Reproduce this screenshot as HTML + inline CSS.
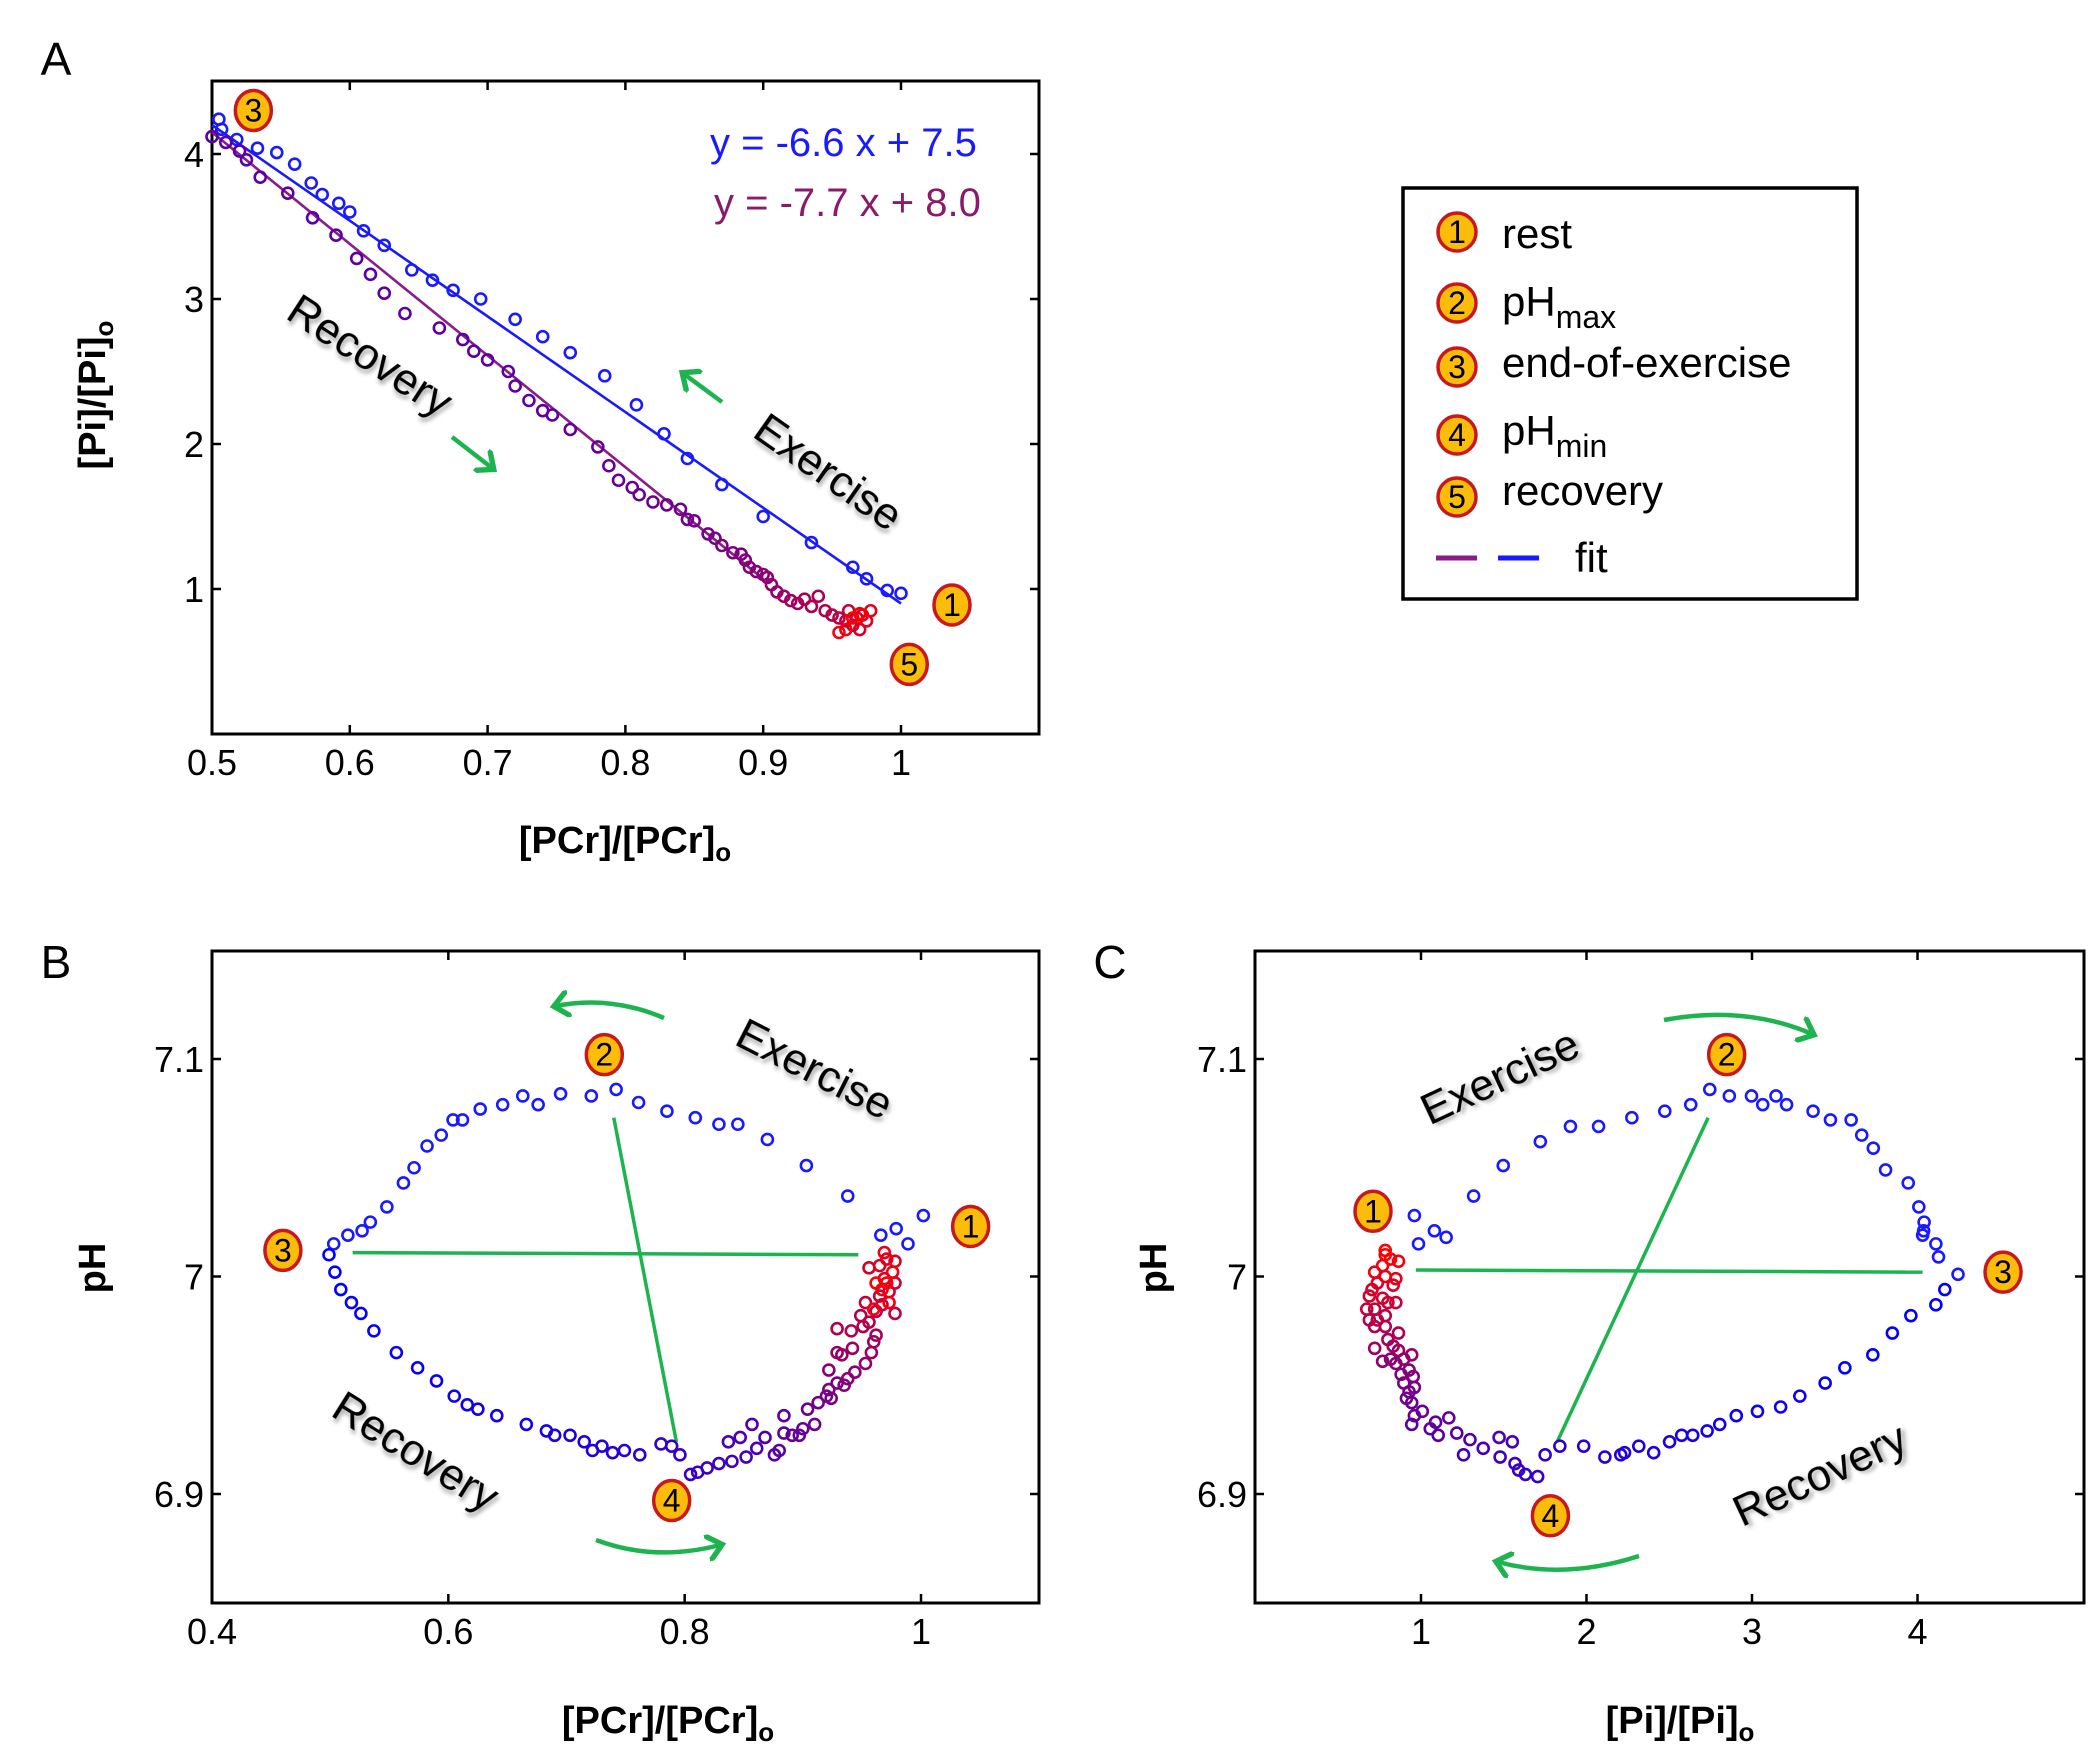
<!DOCTYPE html>
<html><head><meta charset="utf-8"><style>
body{margin:0;background:#fff;}
svg{display:block;}
text{font-family:"Liberation Sans Narrow","Liberation Sans",sans-serif;}
.tick{font-size:36px;fill:#000;}
.axl{font-size:38px;font-weight:bold;fill:#000;}
.ann{font-family:"Liberation Sans","DejaVu Sans",sans-serif;font-size:44px;fill:#000;}
.leg{font-family:"Liberation Sans","DejaVu Sans",sans-serif;font-size:42px;fill:#000;}
.mk{font-family:"Liberation Sans Narrow","Liberation Sans",sans-serif;font-size:32px;fill:#000;}
</style></head><body>
<svg id="fig" width="2100" height="1761" viewBox="0 0 2100 1761" xmlns="http://www.w3.org/2000/svg">
<defs>
<filter id="sh" x="-10%" y="-10%" width="130%" height="130%"><feDropShadow dx="3" dy="3" stdDeviation="2" flood-color="#000" flood-opacity="0.35"/></filter>
<marker id="ah" markerWidth="6" markerHeight="6" refX="3" refY="3" orient="auto" markerUnits="strokeWidth"><path d="M0,0 L3.5,3 L0,6" fill="none" stroke="#1db34f" stroke-width="1.2"/></marker>
</defs>
</svg>
<script>
// ---------- Panel A data ----------
const aTicksX=[0.5,0.6,0.7,0.8,0.9,1];
const aTickLabelsX=["0.5","0.6","0.7","0.8","0.9","1"];
const aTicksY=[1,2,3,4];
const aTickLabelsY=["1","2","3","4"];
const aExerciseX=[1.0,0.99,0.975,0.965,0.935,0.9,0.87,0.845,0.828,0.808,0.785,0.76,0.74,0.72,0.695,0.675,0.66,0.645,0.625,0.61,0.6,0.592,0.58,0.572,0.56,0.547,0.533,0.518,0.507,0.505];
const aExerciseY=[0.97,0.99,1.07,1.15,1.32,1.5,1.72,1.9,2.07,2.27,2.47,2.63,2.74,2.86,3.0,3.06,3.13,3.2,3.37,3.47,3.6,3.66,3.72,3.8,3.93,4.01,4.04,4.1,4.17,4.24];
const aRecoveryX=[0.5,0.51,0.52,0.525,0.535,0.555,0.573,0.59,0.605,0.615,0.625,0.64,0.665,0.682,0.69,0.7,0.715,0.72,0.73,0.74,0.747,0.76,0.78,0.788,0.795,0.805,0.81,0.82,0.83,0.84,0.845,0.85,0.86,0.865,0.87,0.878,0.884,0.887,0.89,0.895,0.9,0.903,0.906,0.91,0.915,0.92,0.925,0.93,0.935,0.94,0.945,0.95,0.955,0.96,0.962,0.965,0.968,0.97,0.972,0.975,0.978,0.96,0.955,0.97,0.965];
const aRecoveryY=[4.12,4.08,4.02,3.96,3.84,3.73,3.56,3.44,3.28,3.17,3.04,2.9,2.8,2.72,2.64,2.58,2.5,2.4,2.3,2.23,2.2,2.1,1.98,1.85,1.75,1.7,1.65,1.6,1.58,1.55,1.48,1.47,1.38,1.35,1.3,1.25,1.24,1.2,1.15,1.12,1.1,1.08,1.03,0.98,0.95,0.92,0.9,0.93,0.88,0.95,0.85,0.82,0.8,0.78,0.85,0.75,0.8,0.72,0.82,0.78,0.85,0.72,0.7,0.83,0.8];
const aFitExercise=[-6.6,7.5,0.5,1.0];   // slope, intercept, xStart, xEnd
const aFitRecovery=[-7.7,8.0,0.5,0.9];
const aMarkerLabels=["3","1","5"];
const aMarkerX=[0.530,1.037,1.006];
const aMarkerY=[4.30,0.89,0.48];

// ---------- Panel B data ----------
const bTicksX=[0.4,0.6,0.8,1];
const bTickLabelsX=["0.4","0.6","0.8","1"];
const bTicksY=[6.9,7.0,7.1];
const bTickLabelsY=["6.9","7","7.1"];
const bExerciseX=[1.002,.989,.979,.966,.938,.903,.870,.845,.829,.809,.785,.761,.742,.721,.695,.676,.663,.646,.627,.612,.604,.594,.582,.571,.562,.548,.534,.527,.515,.503];
const bExerciseY=[7.028,7.015,7.022,7.019,7.037,7.051,7.063,7.070,7.070,7.073,7.076,7.080,7.086,7.083,7.084,7.079,7.083,7.079,7.077,7.072,7.072,7.065,7.060,7.050,7.043,7.032,7.025,7.021,7.019,7.015];
const bRecoveryX=[.499,.504,.509,.518,.526,.537,.556,.574,.590,.605,.616,.625,.641,.666,.683,.690,.703,.715,.722,.730,.739,.749,.762,.780,.789,.796,.805,.811,.819,.829,.840,.852,.861,.868,.837,.847,.857,.876,.880,.884,.884,.891,.897,.900,.904,.910,.913,.920,.924,.922,.929,.935,.922,.938,.944,.953,.929,.933,.942,.958,.960,.962,.951,.929,.941,.949,.956,.962,.967,.978,.953,.965,.973,.978,.969,.956,.965,.971,.978,.969,.976,.967,.973,.960,.971,.962];
const bRecoveryY=[7.010,7.002,6.994,6.988,6.983,6.975,6.965,6.958,6.952,6.945,6.941,6.939,6.936,6.932,6.929,6.927,6.927,6.924,6.920,6.922,6.919,6.920,6.918,6.923,6.922,6.918,6.909,6.910,6.912,6.914,6.915,6.917,6.921,6.926,6.924,6.926,6.932,6.918,6.920,6.928,6.936,6.927,6.927,6.930,6.939,6.932,6.942,6.945,6.944,6.948,6.951,6.950,6.957,6.953,6.956,6.960,6.965,6.964,6.967,6.965,6.970,6.973,6.977,6.976,6.975,6.982,6.979,6.984,6.987,6.983,6.988,6.991,6.993,6.997,6.999,7.004,7.005,7.008,7.007,7.011,7.002,6.994,6.988,6.985,6.997,6.997];
const bLine1X=[.519,.947], bLine1Y=[7.011,7.010];
const bLine2X=[.740,.793], bLine2Y=[7.073,6.924];
const bMarkerLabels=["1","2","3","4"];
const bMarkerX=[1.042,.732,.460,.789];
const bMarkerY=[7.023,7.102,7.012,6.897];

// ---------- Panel C data ----------
const cTicksX=[1,2,3,4];
const cTickLabelsX=["1","2","3","4"];
const cTicksY=[6.9,7.0,7.1];
const cTickLabelsY=["6.9","7","7.1"];
const cExerciseX=[.985,.960,1.081,1.152,1.318,1.497,1.721,1.903,2.073,2.274,2.473,2.630,2.745,2.863,2.997,3.065,3.145,3.209,3.369,3.474,3.599,3.663,3.733,3.807,3.944,4.008,4.040,4.037,4.031,4.111,4.127,4.245];
const cExerciseY=[7.015,7.028,7.021,7.018,7.037,7.051,7.062,7.069,7.069,7.073,7.076,7.079,7.086,7.083,7.083,7.079,7.083,7.079,7.076,7.072,7.072,7.065,7.059,7.049,7.043,7.032,7.025,7.021,7.019,7.015,7.009,7.001];
const cRecoveryX=[4.165,4.111,3.960,3.848,3.730,3.561,3.442,3.289,3.173,3.033,2.905,2.805,2.729,2.642,2.575,2.502,2.406,2.316,2.230,2.207,2.111,1.983,1.839,1.750,1.705,1.631,1.590,1.568,1.478,1.257,1.376,1.552,1.472,1.296,1.104,1.216,1.056,.944,1.088,1.168,.960,1.008,.944,.912,.928,.960,.896,.953,.880,.928,.848,.816,.768,.896,.944,.864,.720,.832,.800,.864,.720,.784,.688,.736,.784,.720,.672,.848,.800,.768,.688,.704,.832,.736,.848,.784,.720,.768,.864,.816,.784,.784];
const cRecoveryY=[6.994,6.987,6.982,6.974,6.964,6.958,6.951,6.945,6.940,6.938,6.936,6.932,6.929,6.927,6.927,6.924,6.919,6.922,6.919,6.918,6.917,6.922,6.922,6.918,6.908,6.909,6.911,6.914,6.917,6.918,6.921,6.924,6.926,6.925,6.927,6.928,6.930,6.932,6.933,6.935,6.936,6.938,6.942,6.944,6.947,6.949,6.951,6.954,6.955,6.957,6.960,6.962,6.961,6.962,6.964,6.966,6.967,6.968,6.971,6.974,6.977,6.977,6.980,6.980,6.982,6.985,6.985,6.988,6.988,6.990,6.991,6.994,6.996,6.997,6.999,7.000,7.002,7.005,7.007,7.008,7.010,7.012];
const cLine1X=[.969,4.031], cLine1Y=[7.003,7.002];
const cLine2X=[2.735,1.823], cLine2Y=[7.073,6.924];
const cMarkerLabels=["1","2","3","4"];
const cMarkerX=[.710,2.847,4.517,1.782];
const cMarkerY=[7.030,7.102,7.002,6.890];

const NS="http://www.w3.org/2000/svg";
const svg=document.getElementById('fig');
function mk(tag,attrs,parent,txt){const e=document.createElementNS(NS,tag);for(const k in attrs)e.setAttribute(k,attrs[k]);if(txt!==undefined)e.textContent=txt;(parent||svg).appendChild(e);return e;}
function scale(d0,d1,r0,r1){return v=>r0+(v-d0)/(d1-d0)*(r1-r0);}
function mixColor(t){const r=Math.round(255*t),b=Math.round(255*(1-t));return `rgb(${r},0,${b})`;}

function axes(g,box,sx,sy,tx,txl,ty,tyl,name){
  const [L,T,R,B]=box;
  const frame=mk('rect',{x:L,y:T,width:R-L,height:B-T,fill:'none',stroke:'#000','stroke-width':3},g);
  
  
  tx.forEach((v,i)=>{const x=sx(v);
    const t1=mk('line',{x1:x,y1:B,x2:x,y2:B-9,stroke:'#000','stroke-width':2.5},g);
    
    
    mk('line',{x1:x,y1:T,x2:x,y2:T+9,stroke:'#000','stroke-width':2.5},g);
    const lb=mk('text',{x:x,y:B+41,'text-anchor':'middle',class:'tick'},g,txl[i]);
    
    
  });
  ty.forEach((v,i)=>{const y=sy(v);
    const t1=mk('line',{x1:L,y1:y,x2:L+9,y2:y,stroke:'#000','stroke-width':2.5},g);
    
    
    mk('line',{x1:R,y1:y,x2:R-9,y2:y,stroke:'#000','stroke-width':2.5},g);
    const lb=mk('text',{x:L-8,y:y+13,'text-anchor':'end',class:'tick'},g,tyl[i]);
    
    
  });
}
function points(g,xs,ys,sx,sy,colorFn,name){
  xs.forEach((v,i)=>{
    const c=mk('circle',{cx:sx(v),cy:sy(ys[i]),r:5.5,fill:'none',stroke:colorFn(i,xs.length),'stroke-width':2.6},g);
    
    
  });
}
function markers(g,labels,xs,ys,sx,sy,name){
  labels.forEach((l,i)=>{
    const mg=mk('g',{},g);
    
    
    mk('ellipse',{cx:sx(xs[i]),cy:sy(ys[i]),rx:18,ry:20,fill:'#fbbd0a',stroke:'#c8181b','stroke-width':3.5},mg);
    mk('text',{x:sx(xs[i]),y:sy(ys[i])+11,'text-anchor':'middle',class:'mk'},mg,l);
  });
}
function label(g,txt,x,y,rot,cls,name,anchor){
  const t=mk('text',{x:x,y:y,'text-anchor':anchor||'middle',class:cls,transform:rot?`rotate(${rot} ${x} ${y})`:''},g);
  t.innerHTML=txt;
  
  
  return t;
}
function arrow(g,d,name){
  const p=mk('path',{d:d,fill:'none',stroke:'#1db34f','stroke-width':4.5,'marker-end':'url(#ah)'},g);
  
  
}
const blueFn=()=> '#1a1aff';
const gradFn=(i,n)=>mixColor(Math.pow(i/(n-1),1.3));

// ---------- Panel A ----------
{
  const g=mk('g',{});
  
  
  const box=[212,81,1039,734];
  const sx=scale(0.5,1.0,212,901), sy=scale(0,4,734,154);
  axes(g,box,sx,sy,aTicksX,aTickLabelsX,aTicksY,aTickLabelsY,'panel-a');
  [[aFitRecovery,'#8b1a8b','recovery-fit-line'],[aFitExercise,'#1a1aff','exercise-fit-line']].forEach(([f,c,n])=>{
    const l=mk('line',{x1:sx(f[2]),y1:sy(f[0]*f[2]+f[1]),x2:sx(f[3]),y2:sy(f[0]*f[3]+f[1]),stroke:c,'stroke-width':2.6},g);
    
    
  });
  points(g,aExerciseX,aExerciseY,sx,sy,blueFn,'exercise-point');
  points(g,aRecoveryX,aRecoveryY,sx,sy,(i,n)=>mixColor(0.35+0.65*Math.pow(i/(n-1),2.5)),'recovery-point');
  markers(g,aMarkerLabels,aMarkerX,aMarkerY,sx,sy,'panel-a');
  const e1=label(g,'y = -6.6 x + 7.5',710,156,0,'ann','exercise-fit-equation','start');e1.setAttribute('fill','#1a1aff');e1.style.fill='#1a1aff';e1.style.fontSize='40px';
  const e2=label(g,'y = -7.7 x + 8.0',714,216,0,'ann','recovery-fit-equation','start');e2.style.fill='#8b1a6b';e2.style.fontSize='40px';
  const r=label(g,'Recovery',362,368,33,'ann','recovery-annotation');r.setAttribute('filter','url(#sh)');
  const ex=label(g,'Exercise',820,484,35,'ann','exercise-annotation');ex.setAttribute('filter','url(#sh)');
  arrow(g,'M452,437 L492,468','recovery-arrow');
  arrow(g,'M722,402 L684,374','exercise-arrow');
  label(g,'A',56,75,0,'ann','panel-a-letter').style.fontSize='46px';
  label(g,'[PCr]/[PCr]<tspan font-size="26" dy="8">o</tspan>',625,853,0,'axl','panel-a-x-axis-title');
  label(g,'[Pi]/[Pi]<tspan font-size="26" dy="8">o</tspan>',105,395,-90,'axl','panel-a-y-axis-title');
}
// ---------- Legend ----------
{
  const g=mk('g',{});
  
  
  mk('rect',{x:1403,y:188,width:454,height:411,fill:'#fff',stroke:'#000','stroke-width':3.5},g);
  const rows=[['1','rest',232,248],['2','pH<tspan font-size="32" dy="12">max</tspan>',303,316],['3','end-of-exercise',367,377],['4','pH<tspan font-size="32" dy="12">min</tspan>',435,445],['5','recovery',497,505]];
  rows.forEach(r=>{
    const eg=mk('g',{},g);
    
    
    mk('ellipse',{cx:1457,cy:r[2],rx:19,ry:19,fill:'#fbbd0a',stroke:'#c8181b','stroke-width':3.5},eg);
    mk('text',{x:1457,y:r[2]+11,'text-anchor':'middle',class:'mk'},eg,r[0]);
    const t=mk('text',{x:1502,y:r[3],class:'leg'},eg);t.innerHTML=r[1];
  });
  const fg=mk('g',{},g);
  
  
  mk('line',{x1:1436,y1:558,x2:1477,y2:558,stroke:'#8b1a8b','stroke-width':5},fg);
  mk('line',{x1:1498,y1:558,x2:1539,y2:558,stroke:'#1a1aff','stroke-width':5},fg);
  mk('text',{x:1575,y:572,class:'leg'},fg,'fit');
}
// ---------- Panel B ----------
{
  const g=mk('g',{});
  
  
  const box=[212,951,1039,1603];
  const sx=scale(0.4,1.0,212,921), sy=scale(6.9,7.1,1494,1059);
  axes(g,box,sx,sy,bTicksX,bTickLabelsX,bTicksY,bTickLabelsY,'panel-b');
  [[bLine1X,bLine1Y,'panel-b-horizontal-line'],[bLine2X,bLine2Y,'panel-b-diagonal-line']].forEach(([X,Y,n])=>{
    const l=mk('line',{x1:sx(X[0]),y1:sy(Y[0]),x2:sx(X[1]),y2:sy(Y[1]),stroke:'#1db34f','stroke-width':3.5},g);
    
    
  });
  points(g,bExerciseX,bExerciseY,sx,sy,blueFn,'exercise-point');
  points(g,bRecoveryX,bRecoveryY,sx,sy,gradFn,'recovery-point');
  markers(g,bMarkerLabels,bMarkerX,bMarkerY,sx,sy,'panel-b');
  const ex=label(g,'Exercise',808,1082,27,'ann','exercise-annotation');ex.setAttribute('filter','url(#sh)');
  const r=label(g,'Recovery',408,1464,32,'ann','recovery-annotation');r.setAttribute('filter','url(#sh)');
  arrow(g,'M664,1018 Q610,995 556,1006','exercise-arrow');
  arrow(g,'M596,1540 Q655,1562 720,1545','recovery-arrow');
  label(g,'B',56,978,0,'ann','panel-b-letter').style.fontSize='46px';
  label(g,'[PCr]/[PCr]<tspan font-size="26" dy="8">o</tspan>',668,1733,0,'axl','panel-b-x-axis-title');
  label(g,'pH',105,1268,-90,'axl','panel-b-y-axis-title');
}
// ---------- Panel C ----------
{
  const g=mk('g',{});
  
  
  const box=[1255,951,2084,1603];
  const sx=scale(0,5,1255.5,2083), sy=scale(6.9,7.1,1494,1059);
  axes(g,box,sx,sy,cTicksX,cTickLabelsX,cTicksY,cTickLabelsY,'panel-c');
  [[cLine1X,cLine1Y,'panel-c-horizontal-line'],[cLine2X,cLine2Y,'panel-c-diagonal-line']].forEach(([X,Y,n])=>{
    const l=mk('line',{x1:sx(X[0]),y1:sy(Y[0]),x2:sx(X[1]),y2:sy(Y[1]),stroke:'#1db34f','stroke-width':3.5},g);
    
    
  });
  points(g,cExerciseX,cExerciseY,sx,sy,blueFn,'exercise-point');
  points(g,cRecoveryX,cRecoveryY,sx,sy,gradFn,'recovery-point');
  markers(g,cMarkerLabels,cMarkerX,cMarkerY,sx,sy,'panel-c');
  const ex=label(g,'Exercise',1506,1090,-25,'ann','exercise-annotation');ex.setAttribute('filter','url(#sh)');
  const r=label(g,'Recovery',1826,1488,-25,'ann','recovery-annotation');r.setAttribute('filter','url(#sh)');
  arrow(g,'M1664,1020 Q1745,1005 1812,1034','exercise-arrow');
  arrow(g,'M1639,1556 Q1565,1580 1498,1562','recovery-arrow');
  label(g,'C',1110,978,0,'ann','panel-c-letter').style.fontSize='46px';
  label(g,'[Pi]/[Pi]<tspan font-size="26" dy="8">o</tspan>',1680,1733,0,'axl','panel-c-x-axis-title');
  label(g,'pH',1166,1268,-90,'axl','panel-c-y-axis-title');
}
</script>
</body></html>
